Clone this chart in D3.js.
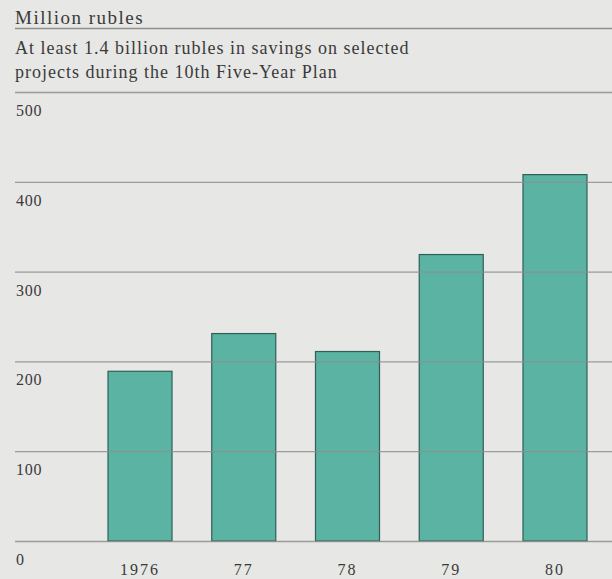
<!DOCTYPE html>
<html>
<head>
<meta charset="utf-8">
<script src="https://cdn.jsdelivr.net/npm/d3@7"></script>
<style>
  html, body { margin: 0; padding: 0; background: #e7e7e5; }
  svg { display: block; }
</style>
</head>
<body>
<svg id="chart" width="612" height="579"></svg>
<script>
// Savings on selected projects, million rubles
const years = ["1976", "77", "78", "79", "80"];
const savings = [189, 231, 211, 319, 408];
const yTicks = [0, 100, 200, 300, 400, 500];
const unitLabel = "Million rubles";
const subtitleLines = [
  "At least 1.4 billion rubles in savings on selected",
  "projects during the 10th Five-Year Plan"
];

const svg = d3.select("#chart");
const serif = "'Liberation Serif', 'DejaVu Serif', serif";
const textColor = "#3a3a3a";
const ruleColor = "#8e8e8c";

const left = 15, right = 612;
const x = d3.scaleBand().domain(years).range([108, 587]).paddingInner(0.383).paddingOuter(0);
const y = d3.scaleLinear().domain([0, 500]).range([541, 92]);

// header
svg.append("text")
  .attr("x", 15).attr("y", 24)
  .attr("font-family", serif).attr("font-size", 19).attr("letter-spacing", 1.5)
  .attr("fill", textColor).text(unitLabel);
svg.append("line")
  .attr("x1", left).attr("x2", right).attr("y1", 28.5).attr("y2", 28.5)
  .attr("stroke", ruleColor).attr("stroke-width", 1.4);

svg.append("g").selectAll("text").data(subtitleLines).join("text")
  .attr("x", 15).attr("y", (d, i) => 54 + i * 24)
  .attr("font-family", serif).attr("font-size", 18).attr("letter-spacing", 1.0)
  .attr("fill", textColor).text(d => d);

// bars
svg.append("g").selectAll("rect").data(years).join("rect")
  .attr("x", d => x(d))
  .attr("y", (d, i) => y(savings[i]))
  .attr("width", x.bandwidth())
  .attr("height", (d, i) => y(0) - y(savings[i]))
  .attr("fill", "#5ab3a3")
  .attr("stroke", "#2f5f57")
  .attr("stroke-width", 1.2);

// horizontal rules at each tick, drawn over the bars
const gy = svg.append("g").attr("transform", `translate(${right},0)`);
gy.call(d3.axisRight(y).tickValues(yTicks).tickSize(-(right - left)).tickFormat(""));
gy.select(".domain").remove();
gy.selectAll(".tick line").attr("stroke", ruleColor).attr("stroke-width", 1.3).attr("stroke-opacity", 0.85);

// tick labels below each rule
svg.append("g").selectAll("text").data(yTicks).join("text")
  .attr("x", 16)
  .attr("y", d => y(d) + 24)
  .attr("font-family", serif).attr("font-size", 16).attr("letter-spacing", 0.8)
  .attr("fill", textColor).text(d => d);

// category labels
const gx = svg.append("g").attr("transform", `translate(0,${y(0)})`)
  .call(d3.axisBottom(x).tickSize(0));
gx.select(".domain").remove();
gx.selectAll("text")
  .attr("y", 34).attr("dy", 0)
  .attr("font-family", serif).attr("font-size", 16).attr("letter-spacing", 2)
  .attr("fill", textColor);
</script>
</body>
</html>
